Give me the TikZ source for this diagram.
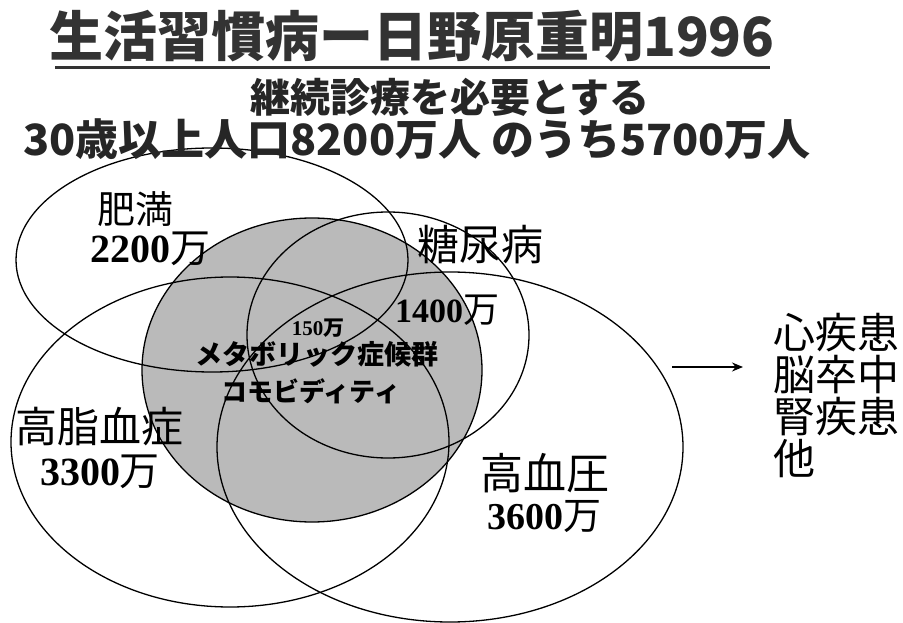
\documentclass[tikz,border=0pt]{standalone}
\usepackage{fontspec}
\newfontfamily\jp{Noto Sans CJK JP}
\newfontfamily\lser{Liberation Serif}
\usetikzlibrary{arrows.meta}
\newcommand{\fsz}[1]{\fontsize{#1}{#1}\selectfont}
\begin{document}
\begin{tikzpicture}[x=1pt,y=-1pt,
  ring/.style={line width=1.3pt, draw=black},
  lbl/.style={inner sep=0pt, font=\jp, text=black},
  num/.style={inner sep=0pt, text=black},
]
\useasboundingbox (0,0) rectangle (903,623);
\fill[white] (0,0) rectangle (903,623);
% shaded metabolic circle
\filldraw[fill=black!27, ring] (312,370) ellipse [x radius=170, y radius=152];
% four disease ellipses
\draw[ring] (212,260) ellipse [x radius=196, y radius=112];
\draw[ring] (388,335) ellipse [x radius=141, y radius=123];
\draw[ring] (230,442) ellipse [x radius=219, y radius=165];
\draw[ring] (450,447) ellipse [x radius=233, y radius=175];

% headings
\node[lbl, text=black!80, font=\jp\bfseries\fsz{54}] (title) at (412,36) {生活習慣病ー日野原重明1996};
\draw[line width=3pt, black!80] (55,68) -- (770,68);
\node[lbl, text=black!85, font=\jp\bfseries\fsz{40}] (sub1) at (450,97) {継続診療を必要とする};
\node[lbl, text=black!85, font=\jp\bfseries\fsz{43}] (sub2) at (417,139) {30歳以上人口8200万人 のうち5700万人};

% labels
\node[lbl, font=\jp\fsz{38}] (obes) at (135,209) {肥満};
\node[num] (obesn) at (150,249) {\lser\bfseries\fsz{40}2200\jp\mdseries 万};
\node[lbl, font=\jp\fsz{42}] (diab) at (480,245) {糖尿病};
\node[num] (diabn) at (447,310) {\lser\bfseries\fsz{34}1400\jp\mdseries\fsz{36}万};
\node[num] (core) at (318,328) {\lser\bfseries\fsz{21}150\jp\fsz{21}万};
\node[lbl, font=\jp\bfseries\fsz{27}] (metab) at (317,354) {メタボリック症候群};
\node[lbl, font=\jp\bfseries\fsz{26}] (comor) at (311,391) {コモビディティ};
\node[lbl, font=\jp\fsz{42}] (lipid) at (100,427) {高脂血症};
\node[num] (lipidn) at (100,472) {\lser\bfseries\fsz{40}3300\jp\mdseries 万};
\node[lbl, font=\jp\fsz{43}] (hyper) at (545,473) {高血圧};
\node[num] (hypern) at (544,517) {\lser\bfseries\fsz{38}3600\jp\mdseries 万};

% outcomes
\node[lbl, font=\jp\fsz{42}, align=left, anchor=west] (outc) at (773,395)
  {\fontsize{42}{52}\selectfont 心疾患\\脳卒中\\腎疾患\\他};
\coordinate (arrS) at (672,367);
\coordinate (arrE) at (743,367);
\draw[line width=1.3pt, -{Stealth[length=11pt,width=9pt]}] (arrS) -- (arrE);
\end{tikzpicture}
\end{document}
